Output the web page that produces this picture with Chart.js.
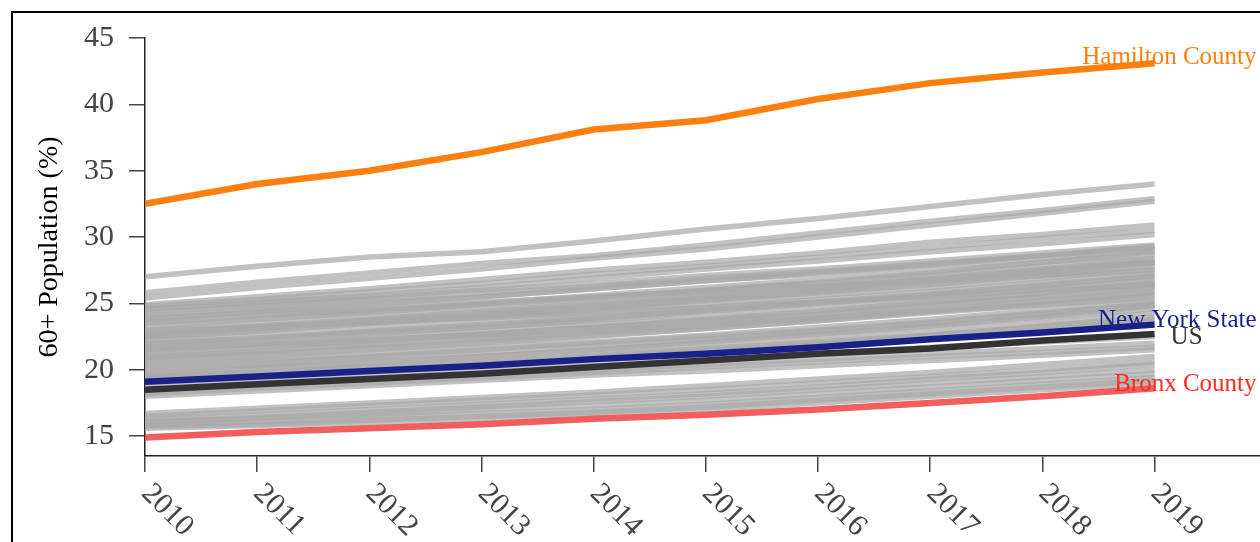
<!DOCTYPE html>
<html>
<head>
<meta charset="utf-8">
<title>60+ Population</title>
<script src="https://cdn.jsdelivr.net/npm/chart.js@4.4.1/dist/chart.umd.min.js"></script>
<style>
  html, body { margin: 0; padding: 0; background: #fff; overflow: hidden; }
  #wrap { position: relative; width: 1260px; height: 542px; }
  /* black frame of the original figure, cut off on the right and bottom */
  #frame { position: absolute; left: 11px; top: 11px; width: 2000px; height: 2000px;
           border: 2px solid #000; pointer-events: none; }
</style>
</head>
<body>
<div id="wrap">
  <canvas id="chart" width="1260" height="542"></canvas>
  <div id="frame"></div>
</div>
<script>
// x categories
const years = [2010, 2011, 2012, 2013, 2014, 2015, 2016, 2017, 2018, 2019];
const yTicks = [15, 20, 25, 30, 35, 40, 45];

// highlighted series (share of population aged 60+, %)
const hamilton = [32.5, 34.0, 35.0, 36.4, 38.1, 38.8, 40.4, 41.6, 42.4, 43.1];
const nyState  = [19.1, 19.5, 19.9, 20.3, 20.8, 21.2, 21.7, 22.3, 22.8, 23.4];
const us       = [18.5, 18.9, 19.3, 19.7, 20.2, 20.7, 21.2, 21.6, 22.2, 22.7];
const bronx    = [14.9, 15.3, 15.6, 15.9, 16.3, 16.6, 17.0, 17.5, 18.0, 18.6];

// every other county, drawn in grey
const otherCounties = [
  [27.0, 27.8, 28.5, 28.9, 29.7, 30.6, 31.4, 32.3, 33.2, 34.0],
  [25.8, 26.6, 27.3, 28.0, 28.6, 29.4, 30.3, 31.2, 32.0, 32.9],
  [25.4, 26.2, 26.9, 27.6, 28.4, 29.1, 30.0, 30.9, 31.8, 32.7],
  [24.9, 25.5, 26.1, 26.8, 27.5, 28.1, 28.8, 29.6, 30.2, 30.9],
  [24.8, 25.3, 25.9, 26.5, 27.2, 27.8, 28.5, 29.2, 29.9, 30.5],
  [24.5, 25.1, 25.6, 26.2, 26.9, 27.6, 28.2, 28.9, 29.5, 30.2],
  [24.6, 25.0, 25.5, 26.0, 26.5, 27.1, 27.6, 28.2, 28.8, 29.4],
  [24.3, 24.8, 25.3, 25.8, 26.3, 26.9, 27.4, 28.0, 28.6, 29.2],
  [24.1, 24.6, 25.1, 25.5, 26.1, 26.7, 27.2, 27.8, 28.4, 29.0],
  [23.8, 24.4, 24.9, 25.5, 26.1, 26.7, 27.3, 27.9, 28.6, 29.3],
  [23.6, 24.1, 24.5, 25.0, 25.6, 26.2, 26.8, 27.4, 28.1, 28.7],
  [23.5, 23.9, 24.4, 24.9, 25.4, 26.0, 26.5, 27.1, 27.8, 28.4],
  [23.2, 23.8, 24.3, 24.9, 25.4, 26.0, 26.6, 27.3, 28.1, 28.9],
  [23.0, 23.5, 24.0, 24.5, 25.0, 25.6, 26.2, 26.8, 27.5, 28.1],
  [22.8, 23.3, 23.8, 24.4, 25.0, 25.6, 26.2, 26.9, 27.6, 28.3],
  [22.7, 23.2, 23.6, 24.1, 24.6, 25.2, 25.8, 26.4, 27.1, 27.8],
  [22.5, 23.0, 23.5, 24.0, 24.5, 25.0, 25.6, 26.2, 26.9, 27.6],
  [22.4, 22.9, 23.5, 24.0, 24.6, 25.3, 25.9, 26.6, 27.3, 28.0],
  [22.2, 22.6, 23.1, 23.6, 24.1, 24.7, 25.3, 25.9, 26.6, 27.3],
  [22.0, 22.4, 22.9, 23.4, 23.9, 24.5, 25.1, 25.7, 26.4, 27.1],
  [21.9, 22.3, 22.8, 23.2, 23.7, 24.3, 24.9, 25.5, 26.1, 26.8],
  [21.7, 22.2, 22.7, 23.2, 23.8, 24.4, 25.0, 25.6, 26.3, 27.0],
  [21.5, 21.9, 22.4, 22.9, 23.4, 23.9, 24.5, 25.1, 25.8, 26.5],
  [21.4, 21.8, 22.2, 22.7, 23.2, 23.7, 24.2, 24.9, 25.5, 26.2],
  [21.2, 21.7, 22.2, 22.7, 23.2, 23.8, 24.4, 25.1, 25.8, 26.6],
  [21.0, 21.4, 21.9, 22.3, 22.8, 23.3, 23.9, 24.5, 25.2, 25.9],
  [20.8, 21.2, 21.6, 22.1, 22.6, 23.1, 23.7, 24.3, 24.9, 25.6],
  [20.6, 21.0, 21.5, 22.0, 22.5, 23.1, 23.7, 24.4, 25.1, 25.8],
  [20.4, 20.8, 21.2, 21.7, 22.1, 22.6, 23.2, 23.8, 24.5, 25.2],
  [20.2, 20.6, 21.0, 21.5, 22.0, 22.5, 23.0, 23.6, 24.3, 25.0],
  [20.0, 20.4, 20.9, 21.3, 21.8, 22.3, 22.9, 23.5, 24.2, 24.9],
  [19.8, 20.2, 20.6, 21.0, 21.5, 22.0, 22.6, 23.2, 23.9, 24.6],
  [19.6, 20.1, 20.5, 21.0, 21.5, 22.1, 22.7, 23.3, 24.0, 24.8],
  [19.4, 19.8, 20.2, 20.6, 21.1, 21.6, 22.2, 22.8, 23.5, 24.3],
  [19.3, 19.6, 20.0, 20.4, 20.9, 21.4, 21.9, 22.6, 23.3, 24.0],
  [19.5, 19.8, 20.2, 20.6, 21.1, 21.6, 22.1, 22.6, 23.2, 23.8],
  [19.2, 19.5, 19.9, 20.3, 20.7, 21.2, 21.7, 22.3, 23.0, 23.7],
  [22.9, 23.2, 23.6, 23.9, 24.3, 24.7, 25.1, 25.5, 26.0, 26.4],
  [21.6, 21.9, 22.3, 22.6, 23.0, 23.4, 23.9, 24.4, 24.9, 25.4],
  [23.9, 24.3, 24.7, 25.1, 25.5, 25.9, 26.3, 26.7, 27.1, 27.5],
  [20.9, 21.4, 21.9, 22.4, 22.9, 23.5, 24.1, 24.8, 25.5, 26.3],
  [22.6, 23.1, 23.7, 24.2, 24.8, 25.4, 26.0, 26.7, 27.4, 28.1],
  [18.7, 19.1, 19.5, 19.9, 20.3, 20.8, 21.2, 21.7, 22.1, 22.5],
  [18.4, 18.8, 19.2, 19.6, 20.0, 20.4, 20.8, 21.2, 21.6, 22.0],
  [18.2, 18.6, 19.0, 19.4, 19.8, 20.2, 20.6, 21.0, 21.3, 21.7],
  [18.0, 18.4, 18.8, 19.2, 19.6, 19.9, 20.3, 20.7, 21.1, 21.5],
  [16.7, 17.1, 17.5, 17.9, 18.3, 18.8, 19.3, 19.8, 20.4, 21.0],
  [16.5, 16.9, 17.3, 17.7, 18.1, 18.5, 19.0, 19.5, 20.0, 20.6],
  [16.3, 16.6, 17.0, 17.4, 17.8, 18.2, 18.7, 19.3, 19.8, 20.4],
  [16.1, 16.4, 16.8, 17.2, 17.6, 18.0, 18.5, 19.0, 19.5, 20.0],
  [16.0, 16.3, 16.6, 17.0, 17.3, 17.7, 18.2, 18.7, 19.2, 19.7],
  [15.8, 16.1, 16.4, 16.7, 17.0, 17.4, 17.9, 18.4, 18.9, 19.4],
  [15.7, 15.9, 16.2, 16.5, 16.8, 17.2, 17.7, 18.2, 18.7, 19.2],
  [15.6, 15.8, 16.0, 16.3, 16.6, 17.0, 17.5, 18.0, 18.5, 19.0]
];

const FONT = '"Liberation Serif", "Times New Roman", serif';
const toPoints = vals => vals.map((v, i) => ({ x: years[i], y: v }));

// highlighted lines and the text written at their right end
const highlights = [
  { text: 'Hamilton County', values: hamilton, line: '#ff7f0e', color: '#ff7f0e', dx: 102, dy: 1 },
  { text: 'New York State',  values: nyState,  line: '#1a1f8a', color: '#1a1f8a', dx: 102, dy: 2 },
  { text: 'US',              values: us,       line: '#333333', color: '#333333', dx: 48,  dy: 10 },
  { text: 'Bronx County',    values: bronx,    line: '#f25e5e', color: '#ff2b1f', dx: 102, dy: 3 }
];

const datasets = [
  ...highlights.map(h => ({
    label: h.text,
    data: toPoints(h.values),
    borderColor: h.line,
    borderWidth: 6.5,
    pointRadius: 0,
    order: 0
  })),
  ...otherCounties.map((vals, i) => ({
    label: 'County ' + (i + 1),
    data: toPoints(vals),
    borderColor: 'rgba(169,169,169,0.72)',
    borderWidth: 5.5,
    pointRadius: 0,
    order: 2
  }))
];

// labels at the end of the highlighted lines
const endLabels = {
  id: 'endLabels',
  afterDatasetsDraw(chart) {
    const { ctx, scales: { x, y } } = chart;
    const lastX = x.getPixelForValue(years[years.length - 1]);
    ctx.save();
    ctx.font = '25px ' + FONT;
    ctx.textAlign = 'right';
    ctx.textBaseline = 'alphabetic';
    highlights.forEach(h => {
      ctx.fillStyle = h.color;
      ctx.fillText(h.text, lastX + h.dx, y.getPixelForValue(h.values[h.values.length - 1]) + h.dy);
    });
    ctx.restore();
  }
};

// year labels turned 45 degrees clockwise, starting at the tick
const yearLabels = {
  id: 'yearLabels',
  afterDraw(chart) {
    const { ctx, scales: { x } } = chart;
    ctx.save();
    ctx.font = '30px ' + FONT;
    ctx.fillStyle = '#444';
    ctx.textAlign = 'left';
    ctx.textBaseline = 'middle';
    years.forEach(yr => {
      ctx.save();
      ctx.translate(x.getPixelForValue(yr) + 1, x.bottom - x.height + 33);
      ctx.rotate(Math.PI / 4);
      ctx.fillText(String(yr), 0, 0);
      ctx.restore();
    });
    ctx.restore();
  }
};

new Chart(document.getElementById('chart'), {
  type: 'line',
  data: { datasets },
  options: {
    responsive: false,
    devicePixelRatio: 1,
    animation: false,
    layout: { padding: { top: 38, right: 0, bottom: 0, left: 0 } },
    elements: { line: { tension: 0, borderCapStyle: 'butt' } },
    plugins: { legend: { display: false }, tooltip: { enabled: false } },
    scales: {
      x: {
        type: 'linear',
        min: 2010,
        max: 2019.94,
        afterBuildTicks: scale => { scale.ticks = years.map(v => ({ value: v })); },
        afterFit: scale => { scale.height = 86; },
        ticks: { display: false },
        grid: { drawOnChartArea: false, drawTicks: true, tickLength: 16, color: '#444', lineWidth: 1.5 },
        border: { display: true, color: '#222', width: 1.5 }
      },
      y: {
        type: 'linear',
        min: 13.5,
        max: 45,
        afterBuildTicks: scale => { scale.ticks = yTicks.map(v => ({ value: v })); },
        afterFit: scale => { scale.width = 145; },
        ticks: { color: '#444', padding: 15, font: { family: FONT, size: 30 } },
        grid: { drawOnChartArea: false, drawTicks: true, tickLength: 16, color: '#444', lineWidth: 1.5 },
        border: { display: true, color: '#222', width: 1.5 },
        title: {
          display: true,
          text: '60+ Population (%)',
          color: '#000',
          font: { family: FONT, size: 28 },
          padding: { top: 33, bottom: 0 }
        }
      }
    }
  },
  plugins: [endLabels, yearLabels]
});
</script>
</body>
</html>
